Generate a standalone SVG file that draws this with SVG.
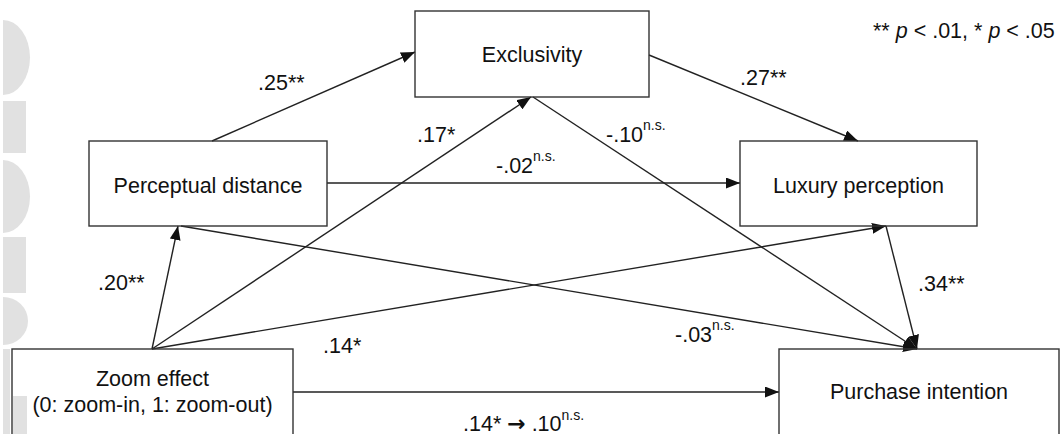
<svg xmlns="http://www.w3.org/2000/svg" width="1062" height="434" viewBox="0 0 1062 434">
<style>
  .box{fill:none;stroke:#333;stroke-width:1.4}
  .lbl{font-family:"Liberation Sans",Arial,sans-serif;font-size:21.5px;fill:#111}
  .nt{font-family:"Liberation Sans",Arial,sans-serif;font-size:21.5px;fill:#111;text-anchor:middle}
  .sup{font-size:14px}
  .arr{font-family:"DejaVu Sans",sans-serif;font-weight:bold;font-size:22px}
  .edge{stroke:#222;stroke-width:1.4;fill:none;marker-end:url(#ah)}
  .wm{fill:#e1e1e1}
</style>
<defs>
  <marker id="ah" markerUnits="userSpaceOnUse" markerWidth="15" markerHeight="11" refX="14" refY="5.5" orient="auto">
    <path d="M0,0 L14,5.5 L0,11 Z" fill="#111"/>
  </marker>
</defs>
<rect width="1062" height="434" fill="#fff"/>
<g id="watermark">
  <path class="wm" d="M3,20 A27,37.5 0 0 1 3,95 Z"/>
  <rect class="wm" x="3" y="101" width="23" height="52"/>
  <path class="wm" d="M3,160 A27,36.5 0 0 1 3,233 Z"/>
  <rect class="wm" x="3" y="237" width="23" height="56"/>
  <path class="wm" d="M3,297 A25,24 0 0 1 3,345 Z"/>
  <rect class="wm" x="3" y="349" width="7" height="85"/>
  <rect class="wm" x="13" y="396" width="14" height="38"/>
</g>
<g id="connectors">
  <line class="edge" x1="212" y1="141" x2="415" y2="52"/>
  <line class="edge" x1="649" y1="55" x2="858" y2="141"/>
  <line class="edge" x1="327" y1="183" x2="740" y2="183"/>
  <line class="edge" x1="152" y1="349" x2="178" y2="226"/>
  <line class="edge" x1="152" y1="349" x2="531" y2="97"/>
  <line class="edge" x1="152" y1="349" x2="886" y2="226"/>
  <line class="edge" x1="293" y1="392" x2="779" y2="392"/>
  <line class="edge" x1="181" y1="226" x2="917" y2="349"/>
  <line class="edge" x1="533" y1="97" x2="917" y2="349"/>
  <line class="edge" x1="886" y1="226" x2="917" y2="349"/>
</g>
<g id="exclusivity">
  <rect class="box" x="415" y="11" width="234" height="86"/>
  <text class="nt" x="532" y="62">Exclusivity</text>
</g>
<g id="perceptual-distance">
  <rect class="box" x="89" y="141" width="238" height="85"/>
  <text class="nt" x="208" y="193">Perceptual distance</text>
</g>
<g id="luxury-perception">
  <rect class="box" x="740" y="141" width="237" height="85"/>
  <text class="nt" x="858.5" y="193">Luxury perception</text>
</g>
<g id="zoom-effect">
  <rect class="box" x="12" y="349" width="281" height="100"/>
  <text class="nt" x="152.5" y="386">Zoom effect</text>
  <text class="nt" x="152.5" y="412">(0: zoom-in, 1: zoom-out)</text>
</g>
<g id="purchase-intention">
  <rect class="box" x="779" y="349" width="280" height="100"/>
  <text class="nt" x="919" y="399">Purchase intention</text>
</g>
<g id="labels">
  <text class="lbl" x="258" y="90">.25**</text>
  <text class="lbl" x="740" y="85">.27**</text>
  <text class="lbl" x="417" y="142">.17*</text>
  <text class="lbl" x="606" y="142">-.10<tspan class="sup" dy="-12">n.s.</tspan></text>
  <text class="lbl" x="496" y="173">-.02<tspan class="sup" dy="-12">n.s.</tspan></text>
  <text class="lbl" x="98" y="290">.20**</text>
  <text class="lbl" x="323" y="353">.14*</text>
  <text class="lbl" x="918" y="291">.34**</text>
  <text class="lbl" x="675" y="342">-.03<tspan class="sup" dy="-12">n.s.</tspan></text>
  <text class="lbl" x="463" y="431">.14* <tspan class="arr">→</tspan> .10<tspan class="sup" dy="-11">n.s.</tspan></text>
  <text class="lbl" x="873" y="38">** <tspan font-style="italic">p</tspan> &lt; .01, * <tspan font-style="italic">p</tspan> &lt; .05</text>
</g>
</svg>
